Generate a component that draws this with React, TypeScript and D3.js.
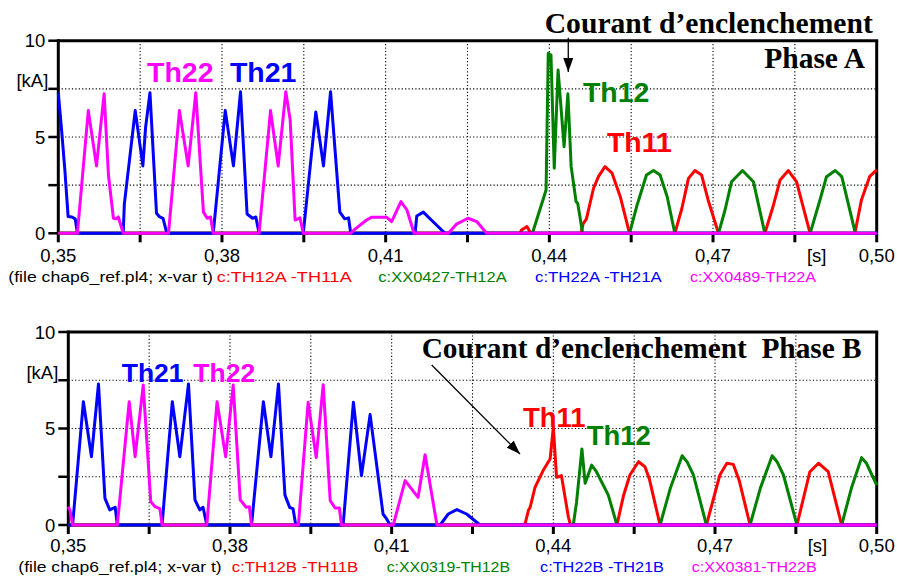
import React from 'react';
import * as d3 from 'd3';

type Pt = [number, number];

// ---------- Phase A (top) ----------
const th11A: Pt[] = [
  [0.35, 0], [0.4346, 0], [0.4349, 0.17], [0.4359, 0.35], [0.4365, 0.05], [0.4369, 0],
  [0.4458, 0], [0.4462, 0.5], [0.4468, 0.75], [0.4481, 2.34], [0.449, 2.94], [0.4502, 3.46], [0.4515, 3.12], [0.453, 1.9], [0.4547, 0],
  [0.463, 0], [0.4643, 1.3], [0.4655, 2.85], [0.4667, 3.26], [0.4679, 3.03], [0.4691, 1.73], [0.471, 0],
  [0.4795, 0], [0.481, 1.39], [0.4823, 2.77], [0.4838, 3.26], [0.4853, 2.68], [0.4878, 0],
  [0.496, 0], [0.4972, 1.73], [0.4987, 2.94], [0.5, 3.3],
];
const th12A: Pt[] = [
  [0.35, 0], [0.4369, 0], [0.4394, 2.25], [0.4398, 9.35], [0.4403, 9.26], [0.4409, 3.38], [0.4416, 8.48],
  [0.4427, 4.5], [0.4434, 7.24], [0.444, 3.46], [0.4449, 1.64], [0.4452, 1.56], [0.4461, 0],
  [0.4547, 0], [0.456, 1.39], [0.4578, 3.03], [0.4591, 3.26], [0.4603, 3.03], [0.4616, 1.9], [0.463, 0],
  [0.471, 0], [0.4722, 1.21], [0.4734, 2.68], [0.4754, 3.26], [0.4774, 2.68], [0.4795, 0],
  [0.4878, 0], [0.4896, 1.73], [0.4908, 2.94], [0.4924, 3.26], [0.4936, 2.94], [0.496, 0.1], [0.4962, 0], [0.5, 0],
];
const th21A: Pt[] = [
  [0.35, 7.3], [0.3506, 5.37], [0.3512, 3.29], [0.3518, 0.87], [0.3525, 0.85], [0.3531, 0.75], [0.3535, 0],
  [0.3619, 0], [0.3621, 1.5], [0.3641, 6.37], [0.3655, 3.5], [0.366, 5.5], [0.3668, 7.3], [0.3675, 3.64], [0.368, 1.04], [0.3685, 0.87], [0.3692, 0.78], [0.3699, 0],
  [0.3784, 0], [0.3806, 6.37], [0.3821, 3.5], [0.3834, 7.35], [0.3846, 1.0], [0.3856, 0.78], [0.3862, 0.85], [0.3868, 0],
  [0.3949, 0], [0.3972, 6.3], [0.3986, 3.5], [0.3999, 7.35], [0.4016, 1.1], [0.4025, 0.75], [0.4032, 0.8], [0.4036, 0],
  [0.4154, 0], [0.4157, 0.9], [0.4169, 1.1], [0.4187, 0.6], [0.4209, 0], [0.5, 0],
];
const th22A: Pt[] = [
  [0.35, 0], [0.3535, 0], [0.3555, 6.37], [0.357, 3.5], [0.3584, 7.24], [0.3592, 3.0], [0.3601, 0.78], [0.3606, 0.75], [0.361, 0.85], [0.3619, 0],
  [0.3702, 0], [0.3722, 6.37], [0.3738, 3.5], [0.3752, 7.3], [0.3766, 1.1], [0.3773, 0.78], [0.3779, 0.85], [0.3784, 0],
  [0.3868, 0], [0.3889, 6.37], [0.3903, 3.5], [0.3917, 7.35], [0.3925, 5.89], [0.3934, 0.69], [0.3943, 0.8], [0.3949, 0],
  [0.4036, 0], [0.4041, 0.15], [0.4065, 0.69], [0.4074, 0.83], [0.4102, 0.83], [0.4111, 0.61], [0.4128, 1.65], [0.4139, 1.21], [0.4152, 0],
  [0.4215, 0], [0.423, 0.48], [0.4251, 0.78], [0.4267, 0.61], [0.4285, 0], [0.5, 0],
];

// ---------- Phase B (bottom) ----------
const th11B: Pt[] = [
  [0.35, 0], [0.4347, 0], [0.4354, 0.78], [0.4357, 0.92], [0.4366, 1.95], [0.4381, 2.82], [0.4394, 3.42], [0.44, 5.06],
  [0.4406, 2.47], [0.441, 2.5], [0.4415, 2.56], [0.4428, 0.4], [0.4432, 0],
  [0.4518, 0], [0.453, 1.5], [0.4542, 2.59], [0.4558, 3.28], [0.457, 3.02], [0.4578, 2.4], [0.4598, 0],
  [0.4684, 0], [0.4709, 2.59], [0.4722, 3.2], [0.4734, 3.14], [0.4745, 2.3], [0.4765, 0],
  [0.4852, 0], [0.4876, 2.76], [0.4892, 3.2], [0.491, 2.76], [0.4935, 0], [0.5, 0],
];
const th12B: Pt[] = [
  [0.35, 0], [0.4437, 0], [0.4443, 1.17], [0.4453, 3.94], [0.4459, 2.16], [0.4471, 3.1], [0.448, 2.76], [0.4502, 1.55], [0.4518, 0],
  [0.4598, 0], [0.4617, 1.9], [0.4639, 3.59], [0.4648, 3.28], [0.466, 2.59], [0.4684, 0],
  [0.4765, 0], [0.4784, 1.9], [0.4806, 3.59], [0.4815, 3.28], [0.4827, 2.59], [0.4852, 0],
  [0.4935, 0], [0.4953, 1.9], [0.4972, 3.49], [0.4981, 3.2], [0.5, 2.07],
];
const th21B: Pt[] = [
  [0.35, 0], [0.3508, 0], [0.3528, 6.39], [0.3543, 3.54], [0.3556, 7.31], [0.3568, 1.38], [0.3577, 0.78], [0.3587, 0.92], [0.3591, 0],
  [0.3674, 0], [0.3693, 6.39], [0.3707, 3.54], [0.3723, 7.31], [0.3735, 1.3], [0.3744, 0.78], [0.375, 0.92], [0.3757, 0],
  [0.384, 0], [0.3862, 6.39], [0.3876, 3.54], [0.389, 7.31], [0.3902, 1.55], [0.3911, 0.9], [0.3917, 0.85], [0.3922, 0],
  [0.401, 0], [0.4029, 6.36], [0.4044, 2.56], [0.406, 5.72], [0.4084, 0.57], [0.4091, 0.3], [0.4097, 0],
  [0.419, 0], [0.4205, 0.57], [0.4221, 0.8], [0.4239, 0.57], [0.4264, 0], [0.5, 0],
];
const th22B: Pt[] = [
  [0.35, 0.95], [0.3503, 0.78], [0.3508, 0], [0.3591, 0], [0.3613, 6.39], [0.3624, 3.54], [0.3639, 7.25], [0.3653, 1.21], [0.3661, 0.95], [0.367, 0.85], [0.3674, 0],
  [0.3757, 0], [0.3776, 6.39], [0.3792, 3.54], [0.3806, 7.25], [0.3819, 1.3], [0.383, 0.92], [0.3836, 0.95], [0.384, 0],
  [0.3927, 0], [0.3945, 6.36], [0.396, 3.5], [0.3973, 7.27], [0.3986, 1.26], [0.3995, 0.88], [0.4003, 0.88], [0.4007, 0],
  [0.4103, 0], [0.4125, 2.3], [0.4149, 1.43], [0.4162, 3.64], [0.4184, 0], [0.5, 0],
];

// ---------- axes ----------
const xTicks = [0.35, 0.365, 0.38, 0.395, 0.41, 0.425, 0.44, 0.455, 0.47, 0.485, 0.5];
const xGrid = [0.365, 0.38, 0.395, 0.41, 0.425, 0.44, 0.455, 0.47, 0.485];
const xLabelValues = [0.35, 0.38, 0.41, 0.44, 0.47, 0.5];
const xLabels = ['0,35', '0,38', '0,41', '0,44', '0,47', '0,50'];
const xUnit = '[s]';
const xUnitAt = 0.489;
const yTicks = [0, 2.5, 5, 7.5, 10];
const yGrid = [2.5, 5, 7.5];
const yLabelValues = [0, 5, 10];
const yLabels = ['0', '5', '10'];
const yUnit = '[kA]';
const yUnitAt = 7.5;

const legendFile = '(file chap6_ref.pl4; x-var t)';
const legendA = ['c:TH12A -TH11A', 'c:XX0427-TH12A', 'c:TH22A -TH21A', 'c:XX0489-TH22A'];
const legendB = ['c:TH12B -TH11B', 'c:XX0319-TH12B', 'c:TH22B -TH21B', 'c:XX0381-TH22B'];
const seriesColors = ['#ff0000', '#008000', '#0000ff', '#ff00ff'];

const SANS = 'Liberation Sans, Arial, sans-serif';
const SERIF = 'Liberation Serif, Times New Roman, serif';

type Label = { text: string; color: string; t: number; v: number; size: number };

interface PanelCfg {
  x0: number; x1: number; yTop: number; yBot: number;
  xLabelDy: number; legendDy: number;
  legendFileX: [number, number];
  legendX: [number, number][];
  legend: string[];
  series: Pt[][];
  labels: Label[];
  title: { text: string; t: number; v: number; anchor: string; len?: number }[];
  arrow: [number, number, number, number];
}

function Panel({ cfg }: { cfg: PanelCfg }) {
  const x = d3.scaleLinear().domain([0.35, 0.5]).range([cfg.x0, cfg.x1]);
  const y = d3.scaleLinear().domain([0, 10]).range([cfg.yBot, cfg.yTop]);
  const line = d3.line<Pt>().x(d => x(d[0])).y(d => y(d[1]));
  const [at, av, bt, bv] = cfg.arrow;
  return (
    <g>
      {xGrid.map(t => (
        <line key={'gx' + t} x1={x(t)} x2={x(t)} y1={cfg.yTop} y2={cfg.yBot} stroke="#000" strokeWidth={1.1} strokeDasharray="1.2,2.2" />
      ))}
      {yGrid.map(v => (
        <line key={'gy' + v} x1={cfg.x0} x2={cfg.x1} y1={y(v)} y2={y(v)} stroke="#000" strokeWidth={1.1} strokeDasharray="1.2,2.2" />
      ))}
      <line x1={cfg.x0} x2={cfg.x1 + 1.5} y1={cfg.yTop} y2={cfg.yTop} stroke="#000" strokeWidth={3} />
      <line x1={cfg.x1} x2={cfg.x1} y1={cfg.yTop} y2={cfg.yBot} stroke="#000" strokeWidth={3} />
      <line x1={cfg.x0} x2={cfg.x0} y1={cfg.yTop - 1.5} y2={cfg.yBot + 1} stroke="#000" strokeWidth={3} />
      <line x1={cfg.x0} x2={cfg.x1} y1={cfg.yBot} y2={cfg.yBot} stroke="#000" strokeWidth={3} />
      {xTicks.map(t => (
        <line key={'tx' + t} x1={x(t)} x2={x(t)} y1={cfg.yBot} y2={cfg.yBot + 9} stroke="#000" strokeWidth={3} />
      ))}
      {yTicks.map(v => (
        <line key={'ty' + v} x1={cfg.x0 - 10} x2={cfg.x0} y1={y(v)} y2={y(v)} stroke="#000" strokeWidth={2.5} />
      ))}
      {xLabelValues.map((t, i) => (
        <text key={'lx' + t} x={x(t)} y={cfg.yBot + cfg.xLabelDy} textAnchor="middle" fontFamily={SANS} fontSize={18.5} fill="#000">{xLabels[i]}</text>
      ))}
      <text x={x(xUnitAt)} y={cfg.yBot + cfg.xLabelDy} textAnchor="middle" fontFamily={SANS} fontSize={18.5} fill="#000">{xUnit}</text>
      {yLabelValues.map((v, i) => (
        <text key={'ly' + v} x={cfg.x0 - 13} y={y(v) + 6.7} textAnchor="end" fontFamily={SANS} fontSize={18.5} fill="#000">{yLabels[i]}</text>
      ))}
      <text x={cfg.x0 - 10} y={y(yUnitAt) - 1.5} textAnchor="end" fontFamily={SANS} fontSize={18.5} fill="#000">{yUnit}</text>
      {cfg.series.map((s, i) => (
        <path key={'s' + i} d={line(s) || ''} fill="none" stroke={seriesColors[i]} strokeWidth={3} strokeLinejoin="round" strokeLinecap="butt" />
      ))}
      {cfg.labels.map((l, i) => (
        <text key={'an' + i} x={x(l.t)} y={y(l.v)} fontFamily={SANS} fontWeight="bold" fontSize={l.size} fill={l.color}>{l.text}</text>
      ))}
      {cfg.title.map((tt, i) => (
        <text key={'ti' + i} x={x(tt.t)} y={y(tt.v)} textAnchor={tt.anchor as any} fontFamily={SERIF} fontWeight="bold" fontSize={29.5} fill="#000"
          style={{ whiteSpace: 'pre' }} {...(tt.len ? { textLength: tt.len, lengthAdjust: 'spacingAndGlyphs' } : {})}>{tt.text}</text>
      ))}
      <line x1={x(at)} y1={y(av)} x2={x(bt)} y2={y(bv)} stroke="#000" strokeWidth={1.3} markerEnd="url(#arrowHead)" />
      <text x={cfg.legendFileX[0]} y={cfg.yBot + cfg.legendDy} fontFamily={SANS} fontSize={14.5} fill="#000"
        textLength={cfg.legendFileX[1] - cfg.legendFileX[0]} lengthAdjust="spacingAndGlyphs">{legendFile}</text>
      {cfg.legend.map((txt, i) => (
        <text key={'lg' + i} x={cfg.legendX[i][0]} y={cfg.yBot + cfg.legendDy} fontFamily={SANS} fontSize={14.5} fill={seriesColors[i]}
          textLength={cfg.legendX[i][1] - cfg.legendX[i][0]} lengthAdjust="spacingAndGlyphs">{txt}</text>
      ))}
    </g>
  );
}

const topCfg: PanelCfg = {
  x0: 58.3, x1: 876.7, yTop: 40.7, yBot: 233.3,
  xLabelDy: 28.4, legendDy: 49,
  legendFileX: [8.3, 213],
  legendX: [[216.7, 351.7], [378.3, 506.7], [535, 661.7], [690, 816]],
  legend: legendA,
  series: [th11A, th12A, th21A, th22A],
  labels: [
    { text: 'Th22', color: '#ff00ff', t: 0.36626, v: 7.87, size: 28.5 },
    { text: 'Th21', color: '#0000ff', t: 0.38146, v: 7.87, size: 28.5 },
    { text: 'Th12', color: '#008000', t: 0.44615, v: 6.83, size: 28.5 },
    { text: 'Th11', color: '#ff0000', t: 0.45055, v: 4.24, size: 28.5 },
  ],
  title: [
    { text: 'Courant d\u2019enclenchement', t: 0.43916, v: 10.38, anchor: 'start', len: 328 },
    { text: 'Phase A', t: 0.49786, v: 8.57, anchor: 'end' },
  ],
  arrow: [0.44347, 10.15, 0.44347, 8.37],
};

const botCfg: PanelCfg = {
  x0: 68.3, x1: 876.7, yTop: 332, yBot: 525,
  xLabelDy: 26.7, legendDy: 47,
  legendFileX: [18.3, 221.7],
  legendX: [[231.7, 358.3], [386.7, 510], [540, 664], [691.7, 816.7]],
  legend: legendB,
  series: [th11B, th12B, th21B, th22B],
  labels: [
    { text: 'Th21', color: '#0000ff', t: 0.35991, v: 7.42, size: 26.5 },
    { text: 'Th22', color: '#ff00ff', t: 0.37319, v: 7.42, size: 26.5 },
    { text: 'Th11', color: '#ff0000', t: 0.43437, v: 5.09, size: 27.5 },
    { text: 'Th12', color: '#008000', t: 0.44619, v: 4.15, size: 27.5 },
  ],
  title: [
    { text: 'Courant d\u2019enclenchement  Phase B', t: 0.41557, v: 8.64, anchor: 'start', len: 440 },
  ],
  arrow: [0.41743, 8.29, 0.43381, 3.68],
};

export default function App() {
  return (
    <svg width={897} height={578} viewBox="0 0 897 578" style={{ position: 'absolute', left: 0, top: 0, background: '#fff' }}>
      <defs>
        <marker id="arrowHead" markerUnits="userSpaceOnUse" markerWidth={16} markerHeight={12} refX={14} refY={5} orient="auto">
          <path d="M0,0 L14,5 L0,10 Z" fill="#000" />
        </marker>
      </defs>
      <rect x={0} y={0} width={897} height={578} fill="#fff" />
      <Panel cfg={topCfg} />
      <Panel cfg={botCfg} />
    </svg>
  );
}
